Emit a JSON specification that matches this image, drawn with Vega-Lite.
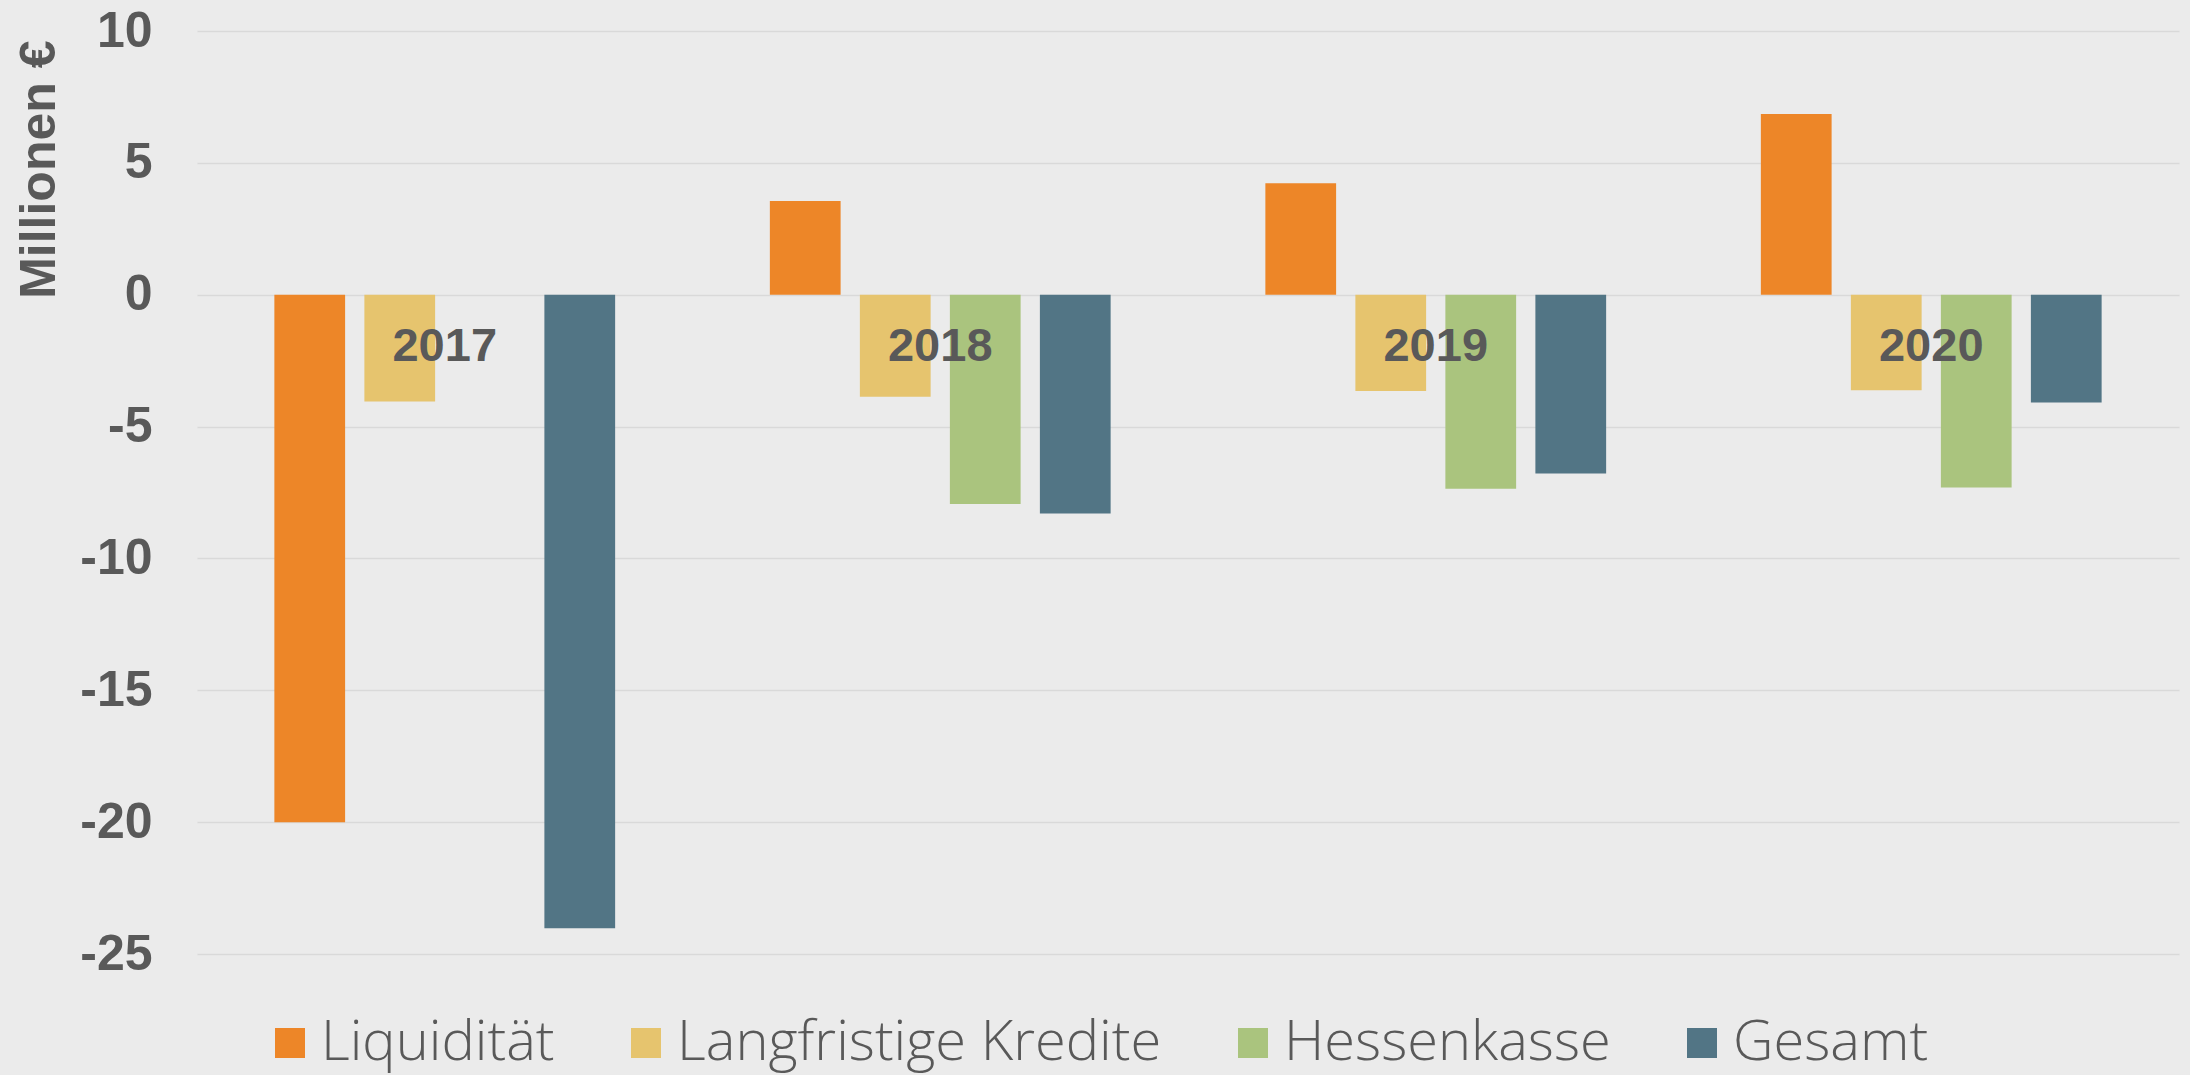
{
  "$schema": "https://vega.github.io/schema/vega-lite/v6.json",
  "width": 1982,
  "height": 923,
  "autosize": {"type": "none"},
  "padding": {"left": 197, "top": 31, "right": 11, "bottom": 121},
  "background": "#ebebeb",
  "config": {"view": {"stroke": null}, "font": "Liberation Sans"},
  "layer": [
    {
      "data": {
        "values": [
          {"year": "2017", "series": "Liquidität", "value": -20.0},
          {"year": "2017", "series": "Langfristige Kredite", "value": -4.05},
          {"year": "2017", "series": "Gesamt", "value": -24.02},
          {"year": "2018", "series": "Liquidität", "value": 3.55},
          {"year": "2018", "series": "Langfristige Kredite", "value": -3.87},
          {"year": "2018", "series": "Hessenkasse", "value": -7.94},
          {"year": "2018", "series": "Gesamt", "value": -8.3},
          {"year": "2019", "series": "Liquidität", "value": 4.23},
          {"year": "2019", "series": "Langfristige Kredite", "value": -3.65},
          {"year": "2019", "series": "Hessenkasse", "value": -7.36},
          {"year": "2019", "series": "Gesamt", "value": -6.78},
          {"year": "2020", "series": "Liquidität", "value": 6.85},
          {"year": "2020", "series": "Langfristige Kredite", "value": -3.62},
          {"year": "2020", "series": "Hessenkasse", "value": -7.31},
          {"year": "2020", "series": "Gesamt", "value": -4.09}
        ]
      },
      "mark": {"type": "bar"},
      "encoding": {
        "x": {"field": "year", "type": "nominal", "scale": {"paddingInner": 0.2734, "paddingOuter": 0.1367}, "axis": null},
        "xOffset": {"field": "series", "type": "nominal", "scale": {"domain": ["Liquidität", "Langfristige Kredite", "Hessenkasse", "Gesamt"], "paddingInner": 0.214, "paddingOuter": 0.107}},
        "y": {
          "field": "value",
          "type": "quantitative",
          "scale": {"domain": [-25, 10], "nice": false},
          "axis": {
            "values": [-25, -20, -15, -10, -5, 0, 5, 10],
            "labelExpr": "toString(datum.value)",
            "domain": false,
            "ticks": false,
            "labelPadding": 45,
            "labelFontSize": 50,
            "labelFontWeight": "bold",
            "labelColor": "#595959",
            "gridColor": "#d9d9d9",
            "gridWidth": 1.5,
            "title": "Millionen €",
            "titleFontSize": 50,
            "titleFontWeight": "bold",
            "titleColor": "#595959",
            "titleX": -158,
            "titleY": 9,
            "titleAngle": 270,
            "titleAlign": "right",
            "titleBaseline": "middle"
          }
        },
        "color": {
          "field": "series",
          "type": "nominal",
          "scale": {"domain": ["Liquidität", "Langfristige Kredite", "Hessenkasse", "Gesamt"], "range": ["#ed8628", "#e6c46e", "#aac47e", "#527585"]},
          "legend": {
            "orient": "none",
            "legendX": 65,
            "legendY": 984,
            "direction": "horizontal",
            "title": null,
            "symbolType": "square",
            "symbolSize": 900,
            "symbolStrokeWidth": 0,
            "symbolOpacity": 1,
            "labelFont": "Open Sans",
            "labelFontWeight": 300,
            "labelFontSize": 56,
            "labelColor": "#595959",
            "labelOffset": 3,
            "columnPadding": 63,
            "labelLimit": 0
          }
        }
      }
    },
    {
      "data": {"values": [{"year": "2017"}, {"year": "2018"}, {"year": "2019"}, {"year": "2020"}]},
      "mark": {"type": "text", "fontSize": 47, "fontWeight": "bold", "color": "#595959", "baseline": "middle"},
      "encoding": {
        "x": {"field": "year", "type": "nominal"},
        "y": {"datum": -2},
        "text": {"field": "year"}
      }
    }
  ]
}
